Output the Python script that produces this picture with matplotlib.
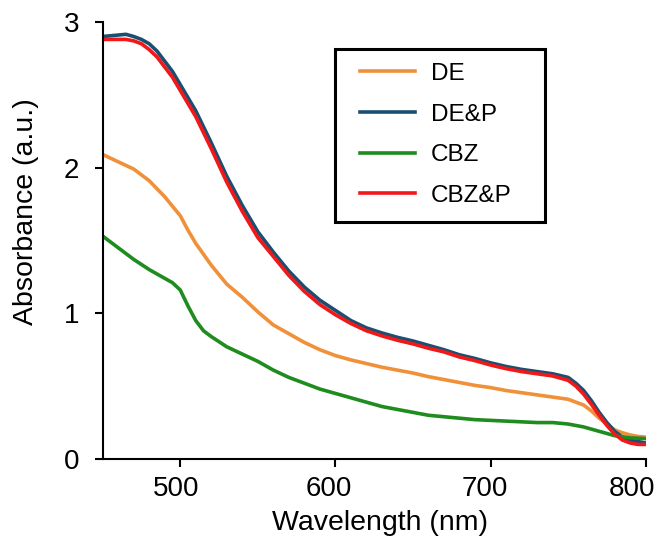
import matplotlib.pyplot as plt
import matplotlib.transforms as mtransforms
from matplotlib.patches import Rectangle

plt.rcParams['font.family'] = ['Liberation Sans', 'DejaVu Sans']

# ── Données ──────────────────────────────────────────────────────────────────
WL_P = [450, 460, 465, 470, 475, 480, 485, 490, 495, 500,
        510, 520, 530, 540, 550, 560, 570, 580, 590, 600, 610, 620, 630, 640,
        650, 660, 670, 680, 690, 700, 710, 720, 730, 740, 750,
        755, 760, 765, 770, 775, 780, 785, 790, 795, 800]
ABS_DEP = [2.90, 2.91, 2.915, 2.90, 2.88, 2.85, 2.80, 2.73, 2.66, 2.57,
           2.39, 2.17, 1.94, 1.74, 1.56, 1.42, 1.29, 1.18, 1.09, 1.02, 0.95, 0.90,
           0.865, 0.835, 0.81, 0.78, 0.75, 0.715, 0.69, 0.66, 0.635, 0.615, 0.60,
           0.585, 0.56,
           0.52, 0.47, 0.40, 0.32, 0.25, 0.19, 0.15, 0.13, 0.12, 0.11]
ABS_CBZP = [2.88, 2.88, 2.88, 2.87, 2.85, 2.81, 2.76, 2.69, 2.62, 2.53,
            2.35, 2.13, 1.90, 1.70, 1.52, 1.39, 1.26, 1.15, 1.06, 0.99, 0.93, 0.88,
            0.845, 0.815, 0.79, 0.76, 0.735, 0.70, 0.675, 0.645, 0.62, 0.60, 0.585,
            0.57, 0.54,
            0.50, 0.445, 0.375, 0.30, 0.23, 0.17, 0.13, 0.11, 0.10, 0.10]

WL_DE = [450, 460, 470, 480, 490, 500, 505, 510, 520, 530, 540, 550, 560, 570,
         580, 590, 600, 610, 620, 630, 640, 650, 660, 670, 680, 690, 700, 710,
         720, 730, 740, 750, 760, 765, 770, 775, 780, 785, 790, 795, 800]
ABS_DE = [2.09, 2.04, 1.99, 1.91, 1.80, 1.67, 1.57, 1.48, 1.33, 1.20, 1.11, 1.01,
          0.92, 0.86, 0.80, 0.75, 0.71, 0.68, 0.655, 0.63, 0.61, 0.59, 0.565, 0.545,
          0.525, 0.505, 0.49, 0.47, 0.455, 0.44, 0.425, 0.41, 0.37, 0.33, 0.28,
          0.24, 0.20, 0.18, 0.165, 0.155, 0.15]

WL_CBZ = [450, 460, 470, 480, 490, 495, 500, 505, 510, 515, 520, 530, 540, 550,
          560, 570, 580, 590, 600, 610, 620, 630, 640, 650, 660, 670, 680, 690,
          700, 710, 720, 730, 740, 750, 760, 770, 780, 790, 800]
ABS_CBZ = [1.53, 1.45, 1.37, 1.30, 1.24, 1.21, 1.16, 1.05, 0.95, 0.88, 0.84, 0.77,
           0.72, 0.67, 0.61, 0.56, 0.52, 0.48, 0.45, 0.42, 0.39, 0.36, 0.34, 0.32,
           0.30, 0.29, 0.28, 0.27, 0.265, 0.26, 0.255, 0.25, 0.25, 0.24, 0.22,
           0.19, 0.16, 0.145, 0.14]

XTICKS = [500, 600, 700, 800]
YTICKS = [0, 1, 2, 3]

COLORS = {"DE": "#F0913A", "DE&P": "#1B4F72", "CBZ": "#1E8C1E", "CBZ&P": "#F01818"}

# ── Figure ───────────────────────────────────────────────────────────────────
fig = plt.figure(figsize=(6.59, 5.47), dpi=100)
ax = fig.add_axes([0.1558, 0.1609, 0.824, 0.799])

lw = 2.6
ax.plot(WL_DE, ABS_DE, color=COLORS["DE"], lw=lw, label="DE")
ax.plot(WL_P, ABS_DEP, color=COLORS["DE&P"], lw=lw, label="DE&P")
ax.plot(WL_CBZ, ABS_CBZ, color=COLORS["CBZ"], lw=lw, label="CBZ")
ax.plot(WL_P, ABS_CBZP, color=COLORS["CBZ&P"], lw=lw, label="CBZ&P")

ax.set_xlim(450, 800)
ax.set_ylim(0, 3)
ax.set_xticks(XTICKS)
ax.set_yticks(YTICKS)
for side in ("top", "right"):
    ax.spines[side].set_visible(False)
for side in ("left", "bottom"):
    ax.spines[side].set_linewidth(1.5)
ax.tick_params(direction="out", length=6, width=1.5, labelsize=20)
ax.tick_params(axis="x", pad=6.5)
ax.tick_params(axis="y", pad=11)

# petits décalages des étiquettes x (le 800 est rentré dans le cadre)
for lab, dx in zip(ax.get_xticklabels(), [-4, -7, -6, -14]):
    lab.set_transform(lab.get_transform() +
                      mtransforms.ScaledTranslation(dx / 100, 0, fig.dpi_scale_trans))

ax.set_xlabel("Wavelength (nm)", fontsize=20.5)
ax.set_ylabel("Absorbance (a.u.)", fontsize=20.5)
ax.xaxis.set_label_coords(0.51, -0.117)
ax.yaxis.set_label_coords(-0.118, 0.565)

# cadre de légende dessiné à part, pour garder le texte à gauche
ax.add_patch(Rectangle((0.4278, 0.5423), 0.3867, 0.3959, transform=ax.transAxes,
                       fill=False, edgecolor="black", linewidth=2.2, zorder=5))
ax.legend(loc="upper left", bbox_to_anchor=(0.4738, 0.9065), fontsize=17.5,
          frameon=False, handlelength=2.25, handletextpad=0.66,
          labelspacing=0.77, borderpad=0, borderaxespad=0)

plt.savefig("out.png", dpi=100)
plt.close()
